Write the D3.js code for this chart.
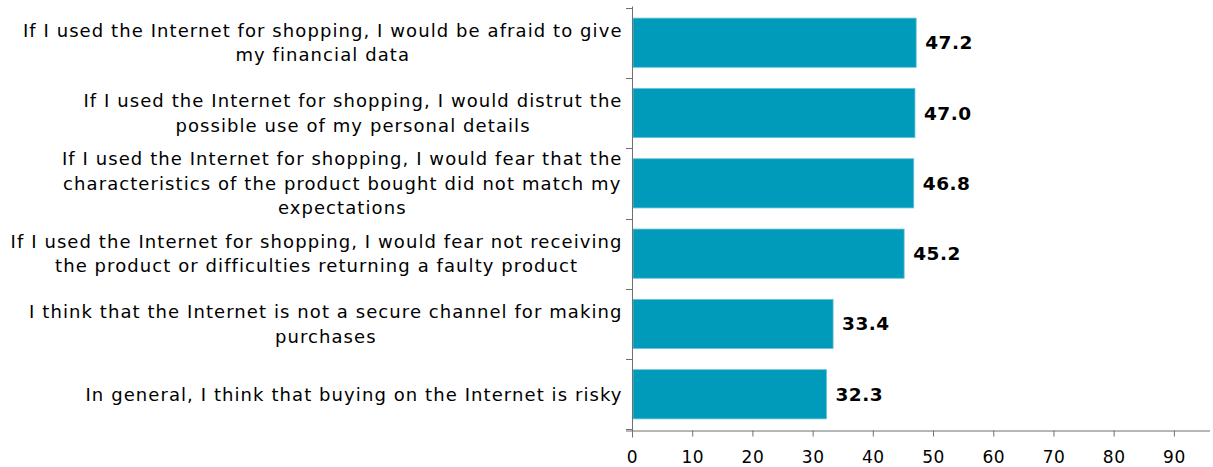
<!DOCTYPE html>
<html>
<head>
<meta charset="utf-8">
<script src="https://cdn.jsdelivr.net/npm/d3@7"></script>
<style>
  html, body { margin: 0; padding: 0; background: #fff; }
  svg { display: block; font-family: "DejaVu Sans", Verdana, sans-serif; }
</style>
</head>
<body>
<svg id="chart" width="1213" height="467"></svg>
<script>
// Category labels, already split into display lines
const categories = [
  ["If I used the Internet for shopping, I would be afraid to give", "my financial data"],
  ["If I used the Internet for shopping, I would distrut the", "possible use of my personal details"],
  ["If I used the Internet for shopping, I would fear that the", "characteristics of the product bought did not match my", "expectations"],
  ["If I used the Internet for shopping, I would fear not receiving", "the product or difficulties returning a faulty product"],
  ["I think that the Internet is not a secure channel for making", "purchases"],
  ["In general, I think that buying on the Internet is risky"]
];
const values = [47.2, 47.0, 46.8, 45.2, 33.4, 32.3];
const xTicks = [0, 10, 20, 30, 40, 50, 60, 70, 80, 90];

const svg = d3.select("#chart");
const plotLeft = 632, plotRight = 1210, plotTop = 6.5, plotBottom = 430.5;

const x = d3.scaleLinear().domain([0, 96]).range([plotLeft, plotRight]);
const y = d3.scaleBand()
  .domain(d3.range(categories.length))
  .range([plotTop, plotBottom])
  .paddingInner(0.3)
  .paddingOuter(0.165);

const axisColor = "#707070";

// Bars
svg.append("g").selectAll("rect")
  .data(values)
  .join("rect")
  .attr("x", x(0) + 1)
  .attr("y", (d, i) => y(i))
  .attr("width", d => x(d) - x(0) - 1)
  .attr("height", y.bandwidth())
  .attr("fill", "#009abb")
  .attr("stroke", "#6cc3d8")
  .attr("stroke-width", 0.8);

// Value labels
svg.append("g").selectAll("text")
  .data(values)
  .join("text")
  .attr("x", d => x(d) + 9)
  .attr("y", (d, i) => y(i) + y.bandwidth() / 2)
  .attr("dy", "0.35em")
  .attr("font-size", 18.5)
  .attr("font-weight", "bold")
  .attr("letter-spacing", 0.5)
  .attr("fill", "#000")
  .text(d => d3.format(".1f")(d));

// X axis
const xAxis = svg.append("g")
  .attr("transform", `translate(0,${plotBottom})`)
  .call(d3.axisBottom(x).tickValues(xTicks).tickSize(6).tickPadding(14.5).tickFormat(d3.format("d")));
xAxis.select(".domain").attr("d", `M${plotLeft - 6},0.5H${plotRight}`).attr("stroke", axisColor);
xAxis.selectAll(".tick line").attr("stroke", axisColor);
xAxis.selectAll(".tick text").attr("font-size", 17).attr("fill", "#000")
  .attr("letter-spacing", 0.5)
  .attr("font-family", "DejaVu Sans, Verdana, sans-serif");

// Y axis line with ticks at band boundaries
const yg = svg.append("g");
yg.append("line")
  .attr("x1", plotLeft + 0.5).attr("x2", plotLeft + 0.5)
  .attr("y1", plotTop).attr("y2", plotBottom + 7)
  .attr("stroke", axisColor);
const step = y.step();
const boundaries = d3.range(categories.length + 1).map(i => y(0) - y.paddingInner() * step / 2 + i * step);
yg.selectAll("line.tk")
  .data(boundaries)
  .join("line")
  .attr("class", "tk")
  .attr("x1", plotLeft - 6).attr("x2", plotLeft)
  .attr("y1", d => Math.round(d) + 0.5).attr("y2", d => Math.round(d) + 0.5)
  .attr("stroke", axisColor);

// Category labels: each block centred on its widest line, right edge near the axis
const labelRight = 622, lineH = 24.5, fs = 18, ls = 1.08;
categories.forEach((lines, i) => {
  const g = svg.append("g");
  const cy = y(i) + y.bandwidth() / 2;
  const texts = lines.map((ln, j) => g.append("text")
    .attr("font-size", fs)
    .attr("letter-spacing", ls)
    .attr("fill", "#000")
    .attr("text-anchor", "middle")
    .attr("y", cy + (j - (lines.length - 1) / 2) * lineH)
    .attr("dy", "0.35em")
    .text(ln));
  const maxW = d3.max(texts, t => t.node().getComputedTextLength());
  texts.forEach(t => t.attr("x", labelRight - maxW / 2 + ls / 2));
});
</script>
</body>
</html>
